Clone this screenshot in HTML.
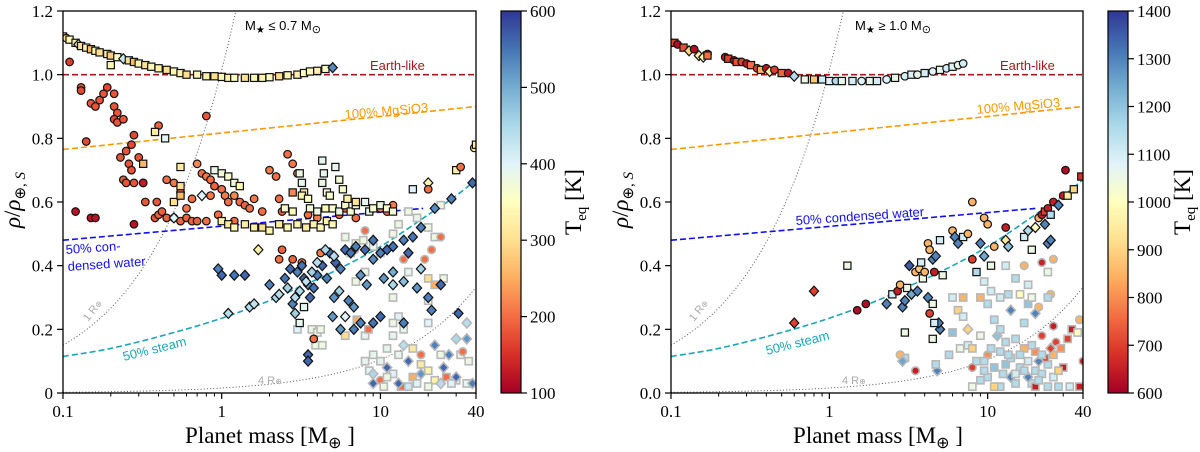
<!DOCTYPE html>
<html><head><meta charset="utf-8"><style>
html,body{margin:0;padding:0;background:#fff}
svg{display:block}
.tk{font-family:"Liberation Serif",serif;font-size:17px;fill:#000}
</style></head><body>
<svg id="fig" width="1200" height="452" viewBox="0 0 1200 452" xmlns="http://www.w3.org/2000/svg">
<defs>
<linearGradient id="cmap" x1="0" y1="1" x2="0" y2="0">
<stop offset="0" stop-color="#a50026"/><stop offset="0.1" stop-color="#d73027"/><stop offset="0.2" stop-color="#f46d43"/><stop offset="0.3" stop-color="#fdae61"/><stop offset="0.4" stop-color="#fee090"/><stop offset="0.5" stop-color="#ffffbf"/><stop offset="0.6" stop-color="#e0f3f8"/><stop offset="0.7" stop-color="#abd9e9"/><stop offset="0.8" stop-color="#74add1"/><stop offset="0.9" stop-color="#4575b4"/><stop offset="1" stop-color="#313695"/>
</linearGradient>
<clipPath id="clipL"><rect x="63" y="11" width="413" height="382"/></clipPath>
<clipPath id="clipR"><rect x="671" y="11" width="412" height="382"/></clipPath>
</defs>
</svg>
<script>
// ---------- data ----------
const xTickLabels = ['0.1','1','10','40'];
const xTickValues = [0.1,1,10,40];
const yTickValues = [0,0.2,0.4,0.6,0.8,1.0,1.2];
const yTickLabelsLeft = ['0','0.2','0.4','0.6','0.8','1.0','1.2'];
const yTickLabelsRight = ['0.0','0.2','0.4','0.6','0.8','1.0','1.2'];
const cbarTicksLeft = [100,200,300,400,500,600];
const cbarTicksRight = [600,700,800,900,1000,1100,1200,1300,1400];
const earthLikeRho = 1.0;
const mgsio3Mass = [0.1,40];
const mgsio3Rho = [0.765,0.9];
const waterMassLeft = [0.1,18.6];
const waterMassRight = [0.1,20];
const waterRho = [0.48,0.58];
const steamMass = [0.1,0.2,0.5,1,2,3,5,10,20,30,40];
const steamRho = [0.115,0.14,0.19,0.235,0.29,0.33,0.38,0.46,0.56,0.62,0.67];
const radius1Coef = 0.15;
const radius4Coef = 0.0023;
const radiusSlope = 0.83;

const pointsLeft = [
[6,0.49,380,'sg'],[7,0.47,370,'sg'],[6.5,0.44,390,'sg'],[7.8,0.48,380,'sg'],[9,0.46,390,'sg'],[10,0.44,380,'sg'],[12,0.5,380,'sg'],[13,0.53,380,'sg'],[15,0.57,380,'sg'],[17,0.55,390,'sg'],[20,0.52,380,'sg'],[22,0.49,380,'sg'],[24,0.59,380,'sg'],[7,0.35,380,'sg'],[8,0.38,380,'sg'],[15,0.38,390,'sg'],[20,0.36,300,'sg'],[22,0.34,250,'sg'],[25,0.36,380,'sg'],[12,0.3,380,'sg'],[13,0.24,400,'sg'],[14,0.2,390,'sg'],[20,0.29,380,'sg'],[20,0.22,400,'sg'],[3,0.2,400,'sg'],[3.7,0.2,380,'sg'],[4,0.19,380,'sg'],[4.2,0.2,380,'sg'],[3.9,0.15,380,'sg'],[4.3,0.15,380,'sg'],[6,0.18,300,'sg'],[8,0.18,390,'sg'],[9,0.12,390,'sg'],[10,0.1,390,'sg'],[11,0.14,390,'sg'],[12,0.18,390,'sg'],[13,0.12,390,'sg'],[16,0.14,320,'sg'],[18,0.09,320,'sg'],[20,0.07,330,'sg'],[24,0.12,380,'sg'],[32,0.12,380,'sg'],[35,0.03,390,'sg'],[30,0.04,390,'sg'],[22,0.04,330,'sg'],[16,0.05,250,'sg'],[12,0.06,400,'sg'],[8.5,0.07,400,'sg'],[8,0.1,390,'sg'],[10,0.04,200,'cg'],[18,0.12,200,'cg'],[13.5,0.02,200,'sg'],[26,0.05,200,'sg'],[20,0.02,380,'sg'],[28,0.03,400,'sg'],[33,0.13,200,'cg'],[36,0.1,380,'sg'],[7.1,0.23,250,'sg'],[8.4,0.2,200,'sg'],[12,0.22,380,'sg'],[19,0.42,200,'cg'],[21,0.45,200,'cg'],[24,0.49,200,'cg'],[14,0.42,200,'cg'],[8,0.51,200,'cg'],[6.9,0.45,210,'cg'],[25,0.08,560,'dg'],[30,0.05,560,'dg'],[15,0.1,560,'dg'],[11,0.08,560,'dg'],[9,0.03,560,'dg'],[13,0.03,560,'dg'],[18,0.06,520,'dg'],[38,0.03,540,'dg'],[22,0.15,540,'dg'],[27,0.12,540,'dg'],[35,0.17,520,'dg'],[35,0.22,440,'dg'],[30,0.17,450,'dg'],[14,0.15,440,'dg'],[9,0.06,450,'dg'],[10.5,0.02,380,'sg'],[15,0.02,420,'sg'],[17,0.03,400,'sg'],[24,0.03,440,'dg'],[11,0.05,380,'sg'],
[0.1,1.12,330,'s'],[0.105,1.115,300,'c'],[0.11,1.11,340,'s'],[0.12,1.1,320,'s'],[0.125,1.095,420,'d'],[0.13,1.09,300,'s'],[0.14,1.085,330,'s'],[0.15,1.08,260,'s'],[0.16,1.075,340,'s'],[0.17,1.07,300,'s'],[0.19,1.065,330,'s'],[0.2,1.03,340,'s'],[0.2,1.06,280,'s'],[0.22,1.055,350,'s'],[0.24,1.05,420,'d'],[0.26,1.045,300,'s'],[0.28,1.04,260,'s'],[0.3,1.035,340,'s'],[0.33,1.03,300,'s'],[0.36,1.025,340,'s'],[0.4,1.02,330,'s'],[0.45,1.015,300,'s'],[0.5,1.01,340,'s'],[0.55,1.005,330,'s'],[0.6,1.0,300,'s'],[0.7,1.0,340,'s'],[0.8,0.995,330,'s'],[0.9,0.995,300,'s'],[1.0,0.993,340,'s'],[1.1,0.99,330,'s'],[1.2,0.99,350,'s'],[1.4,0.99,300,'s'],[1.6,0.99,340,'s'],[1.8,0.99,330,'s'],[2.0,0.992,350,'s'],[2.3,0.995,300,'s'],[2.6,0.998,340,'s'],[3.0,1.0,330,'s'],[3.3,1.005,350,'s'],[3.6,1.01,340,'s'],[4.0,1.012,330,'s'],[4.5,1.018,350,'s'],[5.0,1.022,530,'d'],
[0.11,1.04,160,'c'],[0.13,0.96,180,'c'],[0.13,0.95,170,'c'],[0.15,0.91,180,'c'],[0.16,0.9,180,'c'],[0.17,0.92,180,'c'],[0.18,0.94,180,'c'],[0.19,0.96,170,'c'],[0.21,0.94,180,'c'],[0.21,0.9,180,'c'],[0.22,0.88,180,'c'],[0.21,0.86,170,'c'],[0.22,0.85,180,'c'],[0.24,0.86,180,'c'],[0.14,0.79,170,'c'],[0.25,0.76,180,'c'],[0.27,0.78,170,'c'],[0.28,0.81,170,'c'],[0.3,0.74,180,'c'],[0.23,0.74,180,'c'],[0.26,0.72,180,'c'],[0.27,0.7,180,'c'],[0.24,0.67,180,'c'],[0.25,0.66,180,'c'],[0.28,0.66,180,'c'],[0.32,0.66,180,'c'],[0.33,0.6,180,'c'],[0.39,0.6,180,'c'],[0.38,0.55,180,'c'],[0.4,0.56,190,'c'],[0.42,0.57,190,'c'],[0.45,0.55,190,'c'],[0.5,0.55,190,'c'],[0.55,0.54,190,'c'],[0.6,0.55,190,'c'],[0.65,0.54,190,'c'],[0.8,0.87,180,'c'],[0.4,0.84,190,'c'],[0.12,0.57,120,'c'],[0.15,0.55,120,'c'],[0.16,0.55,120,'c'],[0.28,0.53,120,'c'],[0.32,0.66,130,'c'],
[0.45,0.67,200,'c'],[0.5,0.66,210,'c'],[0.55,0.63,200,'c'],[0.7,0.72,220,'c'],[0.75,0.69,200,'c'],[0.8,0.68,210,'c'],[0.85,0.67,200,'c'],[0.9,0.65,190,'c'],[0.85,0.62,210,'c'],[1.0,0.64,200,'c'],[1.05,0.62,210,'c'],[1.1,0.6,200,'c'],[1.2,0.62,220,'c'],[1.3,0.6,200,'c'],[1.4,0.59,190,'c'],[1.5,0.58,200,'c'],[1.6,0.61,210,'c'],[1.8,0.57,200,'c'],[2.0,0.7,210,'c'],[2.2,0.68,200,'c'],[2.6,0.75,200,'c'],[2.8,0.72,210,'c'],[3.0,0.69,200,'c'],[2.4,0.57,190,'c'],[3.5,0.56,200,'c'],[4.0,0.55,210,'c'],[0.95,0.56,200,'c'],[0.7,0.54,190,'c'],[0.8,0.54,200,'c'],[1.2,0.54,200,'c'],[0.6,0.58,210,'c'],[0.65,0.61,200,'c'],[2.3,0.61,200,'c'],[5.5,0.56,200,'c'],[6,0.58,190,'c'],[7,0.55,200,'c'],[11,0.57,200,'c'],[12,0.59,210,'c'],[10,0.58,210,'c'],[2.4,0.45,190,'c'],[2.3,0.42,200,'c'],[2.8,0.42,190,'c'],[3.2,0.41,210,'c'],[4.2,0.44,210,'c'],[3.8,0.17,200,'c'],
[0.55,0.71,320,'s'],[0.55,0.65,300,'s'],[0.9,0.7,380,'s'],[1.0,0.69,370,'s'],[1.1,0.68,360,'s'],[1.2,0.66,370,'s'],[1.3,0.65,340,'s'],[1.0,0.54,330,'s'],[1.1,0.53,320,'s'],[1.2,0.52,340,'s'],[1.4,0.53,320,'s'],[1.6,0.52,330,'s'],[1.8,0.52,300,'s'],[2.0,0.51,330,'s'],[2.3,0.53,320,'s'],[2.6,0.52,340,'s'],[3.0,0.53,330,'s'],[3.4,0.52,320,'s'],[3.8,0.53,330,'s'],[4.2,0.52,340,'s'],[4.6,0.54,330,'s'],[5.0,0.53,340,'s'],[3.1,0.69,380,'s'],[3.2,0.66,390,'s'],[3.3,0.63,320,'s'],[3.2,0.62,330,'s'],[4.3,0.73,390,'s'],[4.4,0.69,390,'s'],[4.3,0.66,380,'s'],[4.6,0.63,370,'s'],[5.2,0.71,390,'s'],[5.5,0.67,370,'s'],[5.8,0.64,360,'s'],[4.8,0.62,360,'s'],[3.6,0.58,370,'s'],[4.0,0.57,380,'s'],[4.5,0.58,340,'s'],[5.0,0.58,360,'s'],[5.5,0.57,380,'s'],[6.0,0.59,360,'s'],[6.5,0.57,370,'s'],[7.0,0.59,380,'s'],[8.0,0.6,390,'s'],[8.5,0.57,380,'s'],[9,0.58,360,'s'],[10,0.59,380,'s'],[11,0.58,360,'s'],[12,0.57,370,'s'],[6.2,0.61,330,'s'],[7,0.6,310,'s'],[2.5,0.58,360,'s'],[2.8,0.57,340,'s'],[3.5,0.61,350,'s'],[16,0.64,400,'s'],[0.38,0.82,320,'s'],[0.44,0.8,390,'s'],[0.32,0.72,260,'s'],[0.5,0.6,300,'s'],[0.55,0.62,260,'s'],[2.8,0.63,220,'s'],[3.3,0.27,390,'s'],[3.1,0.22,390,'s'],
[0.5,0.55,400,'d'],[0.75,0.62,400,'d'],[1.7,0.45,330,'d'],[20,0.66,340,'d'],[20,0.64,200,'c'],
[39,0.77,320,'c'],[40,0.78,320,'s'],[30,0.7,330,'s'],[32,0.71,200,'c'],
[0.95,0.39,540,'d'],[1.0,0.37,560,'d'],[1.2,0.37,550,'d'],[1.4,0.37,560,'d'],[2.0,0.34,540,'d'],[2.5,0.36,550,'d'],[2.7,0.39,560,'d'],[3.0,0.38,540,'d'],[3.2,0.4,550,'d'],[3.3,0.36,560,'d'],[3.5,0.34,530,'d'],[3.8,0.33,550,'d'],[4.0,0.37,540,'d'],[4.3,0.4,560,'d'],[4.6,0.36,540,'d'],[4.8,0.44,550,'d'],[5.2,0.41,560,'d'],[5.6,0.39,540,'d'],[6,0.45,560,'d'],[6.5,0.44,550,'d'],[7,0.46,540,'d'],[8,0.45,560,'d'],[9,0.48,550,'d'],[10,0.44,540,'d'],[11,0.45,560,'d'],[12,0.46,550,'d'],[14,0.48,540,'d'],[15,0.44,560,'d'],[16,0.49,550,'d'],[18,0.52,540,'d'],[22,0.58,530,'d'],[28,0.61,540,'d'],[38,0.66,560,'d'],[7.5,0.37,520,'d'],[8.2,0.34,520,'d'],[9,0.42,530,'d'],[10.5,0.36,520,'d'],[12,0.38,500,'d'],[14,0.35,480,'d'],[17,0.33,520,'d'],[20,0.3,540,'d'],[24,0.34,560,'d'],[3.6,0.3,560,'d'],[2.8,0.28,540,'d'],[5.1,0.3,520,'d'],[6.3,0.29,540,'d'],[6.8,0.27,520,'d'],[5.0,0.24,520,'d'],[5.6,0.2,520,'d'],[6.8,0.2,540,'d'],[7.5,0.22,540,'d'],[10,0.24,560,'d'],[14,0.22,540,'d'],[21,0.26,540,'d'],[3.5,0.12,560,'d'],[3.5,0.1,560,'d'],[31,0.25,560,'d'],[9,0.22,550,'d'],
[1.1,0.25,440,'d'],[1.5,0.27,440,'d'],[1.6,0.28,430,'d'],[2.2,0.3,450,'d'],[2.3,0.31,440,'d'],[2.6,0.33,460,'d'],[2.9,0.3,440,'d'],[3.1,0.32,450,'d'],[3.4,0.35,430,'d'],[3.7,0.38,460,'d'],[4.0,0.41,440,'d'],[4.5,0.45,450,'d'],[5.1,0.43,440,'d'],[5.5,0.32,460,'d'],[2.9,0.25,460,'d'],[6,0.24,400,'d'],[12,0.34,450,'d'],[18,0.39,460,'d']
];

const pointsRight = [
[6,0.3,1100,'sg'],[6.5,0.26,900,'sg'],[6,0.19,1200,'sg'],[5.7,0.12,1150,'sg'],[7,0.3,850,'sg'],[7,0.24,1100,'sg'],[7.5,0.2,900,'dg'],[7.5,0.15,1100,'sg'],[8,0.14,900,'sg'],[8.5,0.1,1150,'sg'],[9,0.18,1050,'sg'],[9,0.3,850,'sg'],[9.5,0.35,1100,'sg'],[10,0.28,1150,'sg'],[10.5,0.32,1100,'sg'],[11,0.23,1150,'sg'],[11.5,0.18,1200,'dg'],[12,0.3,1100,'sg'],[12,0.2,1150,'sg'],[13,0.4,1100,'sg'],[13.5,0.31,1150,'sg'],[14,0.26,1300,'dg'],[15,0.36,1150,'sg'],[16,0.31,1000,'sg'],[17,0.4,850,'cg'],[18,0.34,1100,'sg'],[18,0.28,1200,'sg'],[19,0.3,1050,'sg'],[20,0.25,1300,'dg'],[21,0.27,850,'cg'],[22,0.41,650,'cg'],[24,0.38,1050,'sg'],[25,0.31,850,'cg'],[26,0.42,850,'cg'],[24,0.3,1150,'sg'],[26,0.21,650,'cg'],[27,0.16,700,'cg'],[29,0.14,800,'sg'],[32,0.17,700,'sg'],[34,0.2,650,'sg'],[37,0.19,1000,'sg'],[38,0.23,850,'cg'],[40,0.1,650,'cg'],[38,0.02,650,'sg'],[30,0.08,650,'sg'],[22,0.18,700,'cg'],[17,0.22,1150,'sg'],[15,0.17,1150,'sg'],[12,0.13,1150,'sg'],[13,0.09,1200,'sg'],[14,0.11,1150,'sg'],[16,0.08,1150,'sg'],[18,0.1,1100,'sg'],[20,0.07,1150,'sg'],[22,0.06,1150,'sg'],[24,0.09,1150,'sg'],[26,0.05,1100,'sg'],[10,0.05,1150,'sg'],[11,0.08,1200,'sg'],[9,0.04,1150,'sg'],[8,0.02,1050,'sg'],[12,0.02,1150,'sg'],[15,0.03,1150,'sg'],[19,0.03,1150,'sg'],[24,0.02,1150,'sg'],[28,0.02,1150,'sg'],[33,0.02,1100,'sg'],[17,0.14,850,'sg'],[20,0.13,800,'sg'],[23,0.11,700,'sg'],[26,0.12,850,'sg'],[10,0.12,800,'cg'],[14,0.05,1300,'dg'],[18,0.05,1300,'dg'],[21,0.1,1300,'dg'],[25,0.14,700,'dg'],[28,0.07,900,'sg'],[4.8,0.07,1300,'dg'],[4.7,0.09,1150,'sg'],[3.5,0.07,650,'cg'],[3,0.11,1150,'sg'],[2.8,0.12,850,'cg'],[2.9,0.1,1250,'dg'],[6.7,0.14,1050,'sg'],[8,0.08,700,'cg'],[11,0.02,900,'sg'],[20,0.02,650,'sg'],[9.5,0.1,1150,'sg'],[10.5,0.14,1150,'sg'],[13,0.16,1150,'sg'],[16,0.12,1150,'sg'],[19,0.15,1150,'sg'],[22,0.12,1150,'sg'],[12.5,0.06,1150,'sg'],[15,0.06,1100,'sg'],[17,0.07,1150,'sg'],[21,0.04,1150,'sg'],[9.5,0.07,1150,'sg'],[13.5,0.12,1150,'sg'],
[0.1,1.1,640,'c'],[0.105,1.1,700,'s'],[0.11,1.095,620,'c'],[0.12,1.085,720,'s'],[0.13,1.075,900,'d'],[0.14,1.08,620,'c'],[0.15,1.06,950,'d'],[0.16,1.055,980,'d'],[0.17,1.065,640,'c'],[0.17,1.06,760,'s'],[0.22,1.055,640,'c'],[0.23,1.05,700,'s'],[0.25,1.045,620,'c'],[0.26,1.04,720,'s'],[0.28,1.04,700,'c'],[0.3,1.035,640,'c'],[0.32,1.03,760,'s'],[0.35,1.02,700,'c'],[0.37,1.015,850,'s'],[0.4,1.02,640,'c'],[0.42,1.01,960,'d'],[0.45,1.015,700,'c'],[0.5,1.005,750,'s'],[0.55,1.005,640,'c'],[0.6,0.995,1150,'d'],[0.7,0.985,1050,'s'],[0.8,0.985,880,'s'],[0.9,0.985,1100,'s'],[1.0,0.98,1080,'s'],[1.1,0.98,1150,'c'],[1.2,0.98,1060,'s'],[1.4,0.98,1100,'s'],[1.6,0.98,1080,'c'],[1.8,0.98,1060,'s'],[2.0,0.98,1100,'s'],[2.3,0.985,1080,'c'],[2.6,0.99,1060,'s'],[3,0.995,1100,'c'],[3.3,1.0,1080,'s'],[3.6,1.0,1060,'c'],[4,1.005,1100,'s'],[4.5,1.01,1080,'c'],[5,1.015,1060,'s'],[5.5,1.02,1100,'c'],[6,1.025,1080,'s'],[6.5,1.03,1060,'c'],[7,1.035,1100,'c'],
[0.6,0.22,700,'d'],[0.8,0.32,700,'d'],[1.3,0.4,1050,'s'],[1.5,0.26,620,'c'],[1.7,0.28,620,'c'],
[2.3,0.28,1300,'d'],[2.5,0.31,1100,'s'],[2.7,0.32,650,'c'],[2.8,0.34,850,'c'],[2.9,0.27,1300,'d'],[3.0,0.29,1300,'d'],[3.1,0.33,1050,'s'],[3.3,0.31,1250,'d'],[3.2,0.4,1350,'d'],[3.5,0.38,850,'c'],[3.7,0.39,880,'c'],[3.8,0.41,1100,'s'],[3.9,0.36,1050,'s'],[4.0,0.38,850,'c'],[4.2,0.47,850,'c'],[4.3,0.45,850,'c'],[4.5,0.42,1300,'d'],[4.7,0.43,1300,'d'],[3.6,0.32,1300,'d'],[4.2,0.3,1300,'d'],[4.5,0.28,1050,'s'],[4.6,0.38,650,'c'],[5.0,0.48,1100,'s'],[5.2,0.37,1050,'s'],[6,0.51,850,'c'],[6.2,0.49,1300,'d'],[6.5,0.47,1300,'d'],[7,0.49,1100,'s'],[7.5,0.5,850,'c'],[8,0.42,700,'c'],[8.5,0.38,1150,'s'],[9,0.47,1300,'d'],[9.5,0.55,850,'c'],[10,0.53,850,'c'],[9.5,0.43,1250,'d'],[10.5,0.4,1050,'s'],[11,0.46,850,'c'],[13,0.52,650,'c'],[13,0.48,950,'d'],[13.5,0.46,1200,'d'],[17,0.49,1100,'s'],[18,0.51,1150,'d'],[19,0.45,1050,'s'],[20,0.52,1000,'d'],[21,0.55,850,'c'],[22,0.56,650,'c'],[23,0.57,700,'s'],[24,0.58,650,'c'],[25,0.56,1150,'s'],[26,0.6,650,'c'],[28,0.59,1300,'d'],[30,0.62,650,'c'],[31,0.7,620,'c'],[32,0.62,950,'s'],[35,0.64,900,'s'],[39,0.68,680,'s'],[23,0.53,1300,'d'],[24,0.47,1300,'d'],[25,0.48,1300,'d'],[3,0.19,1050,'s'],[4.5,0.17,1050,'s'],[5,0.2,1300,'d'],[4.9,0.22,1300,'d'],[4.3,0.25,700,'c'],[4.6,0.22,1100,'s'],[8,0.6,850,'c']
];

// ---------- drawing ----------
const NS='http://www.w3.org/2000/svg';
const svg=document.getElementById('fig');
const stops=[[0,'#a50026'],[0.1,'#d73027'],[0.2,'#f46d43'],[0.3,'#fdae61'],[0.4,'#fee090'],[0.5,'#ffffbf'],[0.6,'#e0f3f8'],[0.7,'#abd9e9'],[0.8,'#74add1'],[0.9,'#4575b4'],[1,'#313695']];
function hx(h){return [parseInt(h.substr(1,2),16),parseInt(h.substr(3,2),16),parseInt(h.substr(5,2),16)];}
function cmap(t){t=Math.max(0,Math.min(1,t));for(let i=1;i<stops.length;i++){if(t<=stops[i][0]){const a=hx(stops[i-1][1]),b=hx(stops[i][1]);const f=(t-stops[i-1][0])/(stops[i][0]-stops[i-1][0]);return 'rgb('+a.map((v,k)=>Math.round(v+(b[k]-v)*f)).join(',')+')';}}return stops[10][1];}
function mk(tag,attrs,parent){const e=document.createElementNS(NS,tag);for(const k in attrs)e.setAttribute(k,attrs[k]);(parent||svg).appendChild(e);return e;}

function panel(cfg){
  const {x0,x1,y0,y1,pts,tmin,tmax,cbx,cbTicks,yLabels,side,clip,waterMass}=cfg;
  const xs=m=>x0+(Math.log10(m)+1)/Math.log10(400)*(x1-x0);
  const ys=r=>y0+(r/1.2)*(y1-y0);
  const g=mk('g',{});
  
  
  const pg=mk('g',{'clip-path':'url(#'+clip+')'},g);
  
  
  function curve(ms,rs,stroke,dash,w,name,smooth){
    const P=ms.map((m,i)=>[xs(m),ys(rs[i])]);
    let d='M'+P[0][0].toFixed(1)+','+P[0][1].toFixed(1);
    for(let i=1;i<P.length;i++){
      if(smooth){
        const p0=P[Math.max(0,i-2)],p1=P[i-1],p2=P[i],p3=P[Math.min(P.length-1,i+1)];
        const c1=[p1[0]+(p2[0]-p0[0])/6,p1[1]+(p2[1]-p0[1])/6],c2=[p2[0]-(p3[0]-p1[0])/6,p2[1]-(p3[1]-p1[1])/6];
        d+='C'+c1.map(v=>v.toFixed(1))+' '+c2.map(v=>v.toFixed(1))+' '+p2.map(v=>v.toFixed(1));
      } else d+='L'+P[i][0].toFixed(1)+','+P[i][1].toFixed(1);
    }
    const p=mk('path',{d:d,fill:'none',stroke:stroke,'stroke-width':w,'stroke-dasharray':dash},pg);
    
    
  }
  const rm=[];for(let k=0;k<=60;k++)rm.push(0.1*Math.pow(400,k/60));
  curve(rm,rm.map(m=>radius1Coef*Math.pow(m/0.1,radiusSlope)),'#555','1,2.2',1,'1-earth-radius-curve');
  curve(rm,rm.map(m=>radius4Coef*Math.pow(m/0.1,radiusSlope)),'#555','1,2.2',1,'4-earth-radius-curve');
  curve([0.1,40],[earthLikeRho,earthLikeRho],'#a31a1a','6,3',1.6,'earth-like-line');
  curve(mgsio3Mass,mgsio3Rho,'#ff9900','6,3',1.6,'mgsio3-line');
  curve(waterMass,waterRho,'#1010ee','6,3',1.6,'condensed-water-line');
  curve(steamMass,steamRho,'#1aa6b7','6,3',1.6,'steam-line',true);
  pts.forEach(p=>{
    const x=xs(p[0]),y=ys(p[1]),c=cmap((p[2]-tmin)/(tmax-tmin));
    const faded=p[3].length>1, sh=p[3][0];
    const st=faded?'#b8b8b8':'#111', sw=faded?1.6:1.2;
    let e;
    if(sh==='c')e=mk('circle',{cx:x,cy:y,r:3.8,fill:c,stroke:st,'stroke-width':sw},pg);
    else if(sh==='s')e=mk('rect',{x:x-3.6,y:y-3.6,width:7.2,height:7.2,fill:c,stroke:st,'stroke-width':sw},pg);
    else e=mk('path',{d:'M'+x+','+(y-5)+'L'+(x+4.6)+','+y+'L'+x+','+(y+5)+'L'+(x-4.6)+','+y+'Z',fill:c,stroke:st,'stroke-width':sw},pg);
    
    
  });
  const fr=mk('rect',{x:x0,y:y1,width:x1-x0,height:y0-y1,fill:'none',stroke:'#000','stroke-width':1.3},g);
  
  
  const minors=[0.2,0.3,0.4,0.5,0.6,0.7,0.8,0.9,2,3,4,5,6,7,8,9,20,30];
  minors.forEach(m=>{const t=mk('line',{x1:xs(m),x2:xs(m),y1:y0,y2:y0+3.5,stroke:'#000','stroke-width':1},g);});
  xTickValues.forEach((m,i)=>{
    const t=mk('line',{x1:xs(m),x2:xs(m),y1:y0,y2:y0+6,stroke:'#000','stroke-width':1.2},g);
    
    
    const tx=mk('text',{x:xs(m),y:y0+24,'text-anchor':'middle',class:'tk'},g);tx.textContent=xTickLabels[i];
    
    
  });
  yTickValues.forEach((r,i)=>{
    const t=mk('line',{x1:x0-6,x2:x0,y1:ys(r),y2:ys(r),stroke:'#000','stroke-width':1.2},g);
    
    
    const tx=mk('text',{x:x0-10,y:ys(r)+6,'text-anchor':'end',class:'tk'},g);tx.textContent=yLabels[i];
    
    
  });
  const cb=mk('rect',{x:cbx,y:y1,width:20,height:y0-y1,fill:'url(#cmap)',stroke:'#000','stroke-width':1.2},g);
  
  
  cbTicks.forEach(v=>{
    const yy=y0+(v-tmin)/(tmax-tmin)*(y1-y0);
    const t=mk('line',{x1:cbx+20,x2:cbx+26,y1:yy,y2:yy,stroke:'#000','stroke-width':1.2},g);
    
    
    const tx=mk('text',{x:cbx+29,y:yy+6,class:'tk'},g);tx.textContent=v;
    
    
  });
  return {xs,ys};
}

panel({x0:63,x1:476,y0:393,y1:11,pts:pointsLeft,tmin:100,tmax:600,cbx:501,cbTicks:cbarTicksLeft,yLabels:yTickLabelsLeft,side:'left',clip:'clipL',waterMass:waterMassLeft});
panel({x0:671,x1:1083,y0:393,y1:11,pts:pointsRight,tmin:600,tmax:1400,cbx:1108,cbTicks:cbarTicksRight,yLabels:yTickLabelsRight,side:'right',clip:'clipR',waterMass:waterMassRight});

function txt(s,attrs,name){const t=mk('text',attrs);t.innerHTML=s;return t;}
const serif='font-family:"Liberation Serif",serif;';
[[20,'left'],[628,'right']].forEach(([x,s])=>{
  txt('<tspan font-style="italic">ρ</tspan>/<tspan font-style="italic">ρ</tspan><tspan font-size="15" dy="5">⊕, <tspan font-style="italic">S</tspan></tspan>',{x:0,y:0,transform:'translate('+x+',200) rotate(-90)','text-anchor':'middle',style:serif+'font-size:23px'},s+'-y-axis-title');
});
txt('Planet mass [M<tspan font-size="16" dy="5">⊕</tspan><tspan dy="-5"> ]</tspan>',{x:270,y:443,'text-anchor':'middle',style:serif+'font-size:23px'},'left-x-axis-title');
txt('Planet mass [M<tspan font-size="16" dy="5">⊕</tspan><tspan dy="-5"> ]</tspan>',{x:878,y:443,'text-anchor':'middle',style:serif+'font-size:23px'},'right-x-axis-title');
txt('T<tspan font-size="15" dy="5">eq</tspan><tspan dy="-5"> [K]</tspan>',{x:0,y:0,transform:'translate(581,202) rotate(-90)','text-anchor':'middle',style:serif+'font-size:23px'},'left-colorbar-title');
txt('T<tspan font-size="15" dy="5">eq</tspan><tspan dy="-5"> [K]</tspan>',{x:0,y:0,transform:'translate(1190,202) rotate(-90)','text-anchor':'middle',style:serif+'font-size:23px'},'right-colorbar-title');
const A='font-family:"Liberation Sans",sans-serif;font-size:13px;';
txt('M<tspan font-size="10" dy="3">★</tspan><tspan dy="-3"> ≤ 0.7 M</tspan><tspan font-size="11" dy="3">⊙</tspan>',{x:245,y:30,style:A+'fill:#000'},'left-star-mass-label');
txt('M<tspan font-size="10" dy="3">★</tspan><tspan dy="-3"> ≥ 1.0 M</tspan><tspan font-size="11" dy="3">⊙</tspan>',{x:855,y:30,style:A+'fill:#000'},'right-star-mass-label');
txt('Earth-like',{x:370,y:70,style:A+'fill:#a31a1a'},'left-earth-like-label');
txt('Earth-like',{x:1000,y:70,style:A+'fill:#a31a1a'},'right-earth-like-label');
txt('100% MgSiO3',{x:0,y:0,transform:'translate(345,119) rotate(-5)',style:A+'fill:#ff9900'},'left-mgsio3-label');
txt('100% MgSiO3',{x:0,y:0,transform:'translate(977,114) rotate(-5)',style:A+'fill:#ff9900'},'right-mgsio3-label');
txt('50% con-',{x:0,y:0,transform:'translate(66,254) rotate(-4)',style:A+'fill:#1010ee'},'left-water-label-1');
txt('densed water',{x:0,y:0,transform:'translate(68,271) rotate(-4)',style:A+'fill:#1010ee'},'left-water-label-2');
txt('50% condensed water',{x:0,y:0,transform:'translate(796,225) rotate(-4)',style:A+'fill:#1010ee'},'right-water-label');
txt('50% steam',{x:0,y:0,transform:'translate(124,361) rotate(-14)',style:A+'fill:#1aa6b7'},'left-steam-label');
txt('50% steam',{x:0,y:0,transform:'translate(767,355) rotate(-14)',style:A+'fill:#1aa6b7'},'right-steam-label');
txt('1 R<tspan font-size="8">⊕</tspan>',{x:0,y:0,transform:'translate(88,322) rotate(-52)',style:A+'font-size:11px;fill:#aaa'},'left-1-radius-label');
txt('1 R<tspan font-size="8">⊕</tspan>',{x:0,y:0,transform:'translate(694,322) rotate(-52)',style:A+'font-size:11px;fill:#aaa'},'right-1-radius-label');
txt('4 R<tspan font-size="8">⊕</tspan>',{x:258,y:384,style:A+'font-size:11px;fill:#aaa'},'left-4-radius-label');
txt('4 R<tspan font-size="8">⊕</tspan>',{x:842,y:384,style:A+'font-size:11px;fill:#aaa'},'right-4-radius-label');
</script>
</body></html>
